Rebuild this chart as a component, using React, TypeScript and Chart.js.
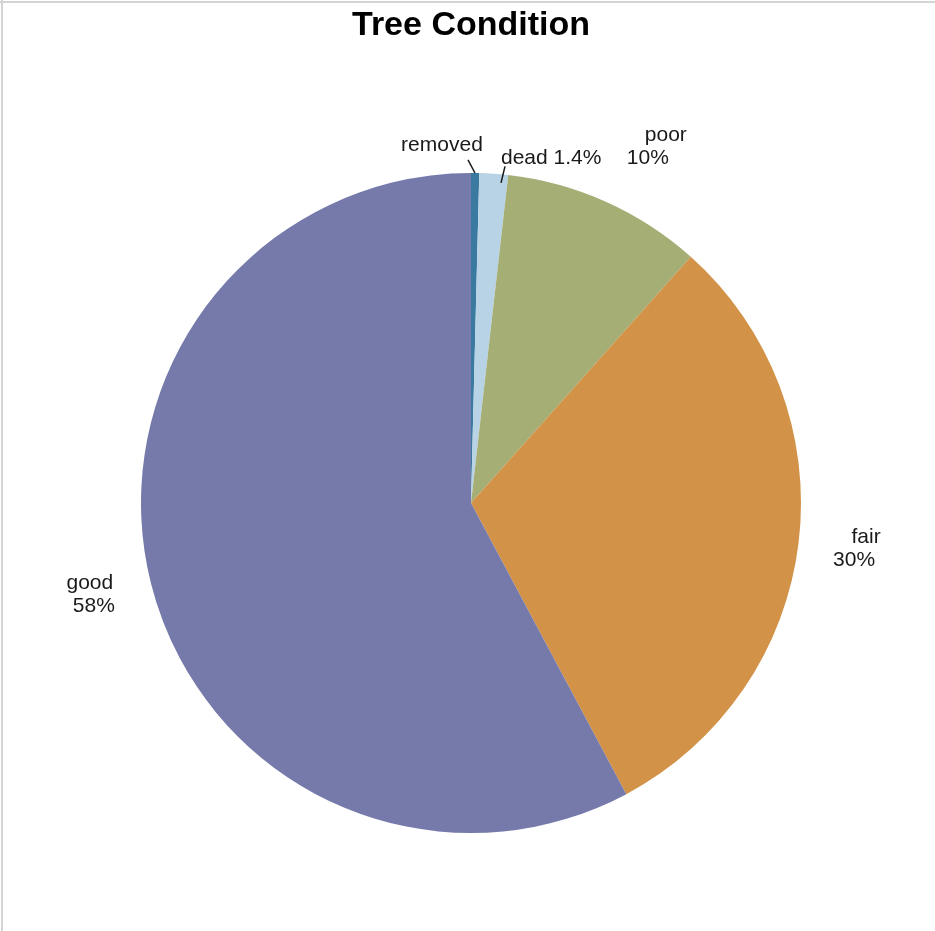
import React, { useEffect, useRef } from "react";
import { Chart, registerables } from "chart.js";

Chart.register(...registerables);

const categories = ["removed", "dead", "poor", "fair", "good"];
const values = [0.4, 1.4, 9.8, 30.6, 57.8];
const colors = ["#3A7AA0", "#B8D3E5", "#A4AE75", "#D29248", "#767AAB"];

// label placement (relative to pie centre, in units of radius) and per-line offsets
const labelLayout = [
  { lines: ["removed"], ax: -0.088, ay: -1.085, dx: [0], leader: { from: [0.012, -1.0], to: [-0.009, -1.04] } },
  { lines: ["dead 1.4%"], ax: 0.243, ay: -1.046, dx: [0], leader: { from: [0.091, -0.97], to: [0.103, -1.02] } },
  { lines: ["poor", "10%"], ax: 0.56, ay: -1.08, dx: [10, -8], leader: null },
  { lines: ["fair", "30%"], ax: 1.17, ay: 0.137, dx: [9, -3], leader: null },
  { lines: ["good", "58%"], ax: -1.146, ay: 0.277, dx: [-3, 1], leader: null },
];

export default function App() {
  const ref = useRef<HTMLCanvasElement | null>(null);
  useEffect(() => {
    if (!ref.current) return;
    const labelPlugin = {
      id: "pieLabels",
      beforeDraw(chart: any) {
        const ctx = chart.ctx;
        ctx.save();
        ctx.strokeStyle = "#d4d4d4";
        ctx.lineWidth = 2;
        ctx.beginPath();
        ctx.moveTo(0, 2);
        ctx.lineTo(chart.width, 2);
        ctx.moveTo(2, 0);
        ctx.lineTo(2, chart.height);
        ctx.stroke();
        ctx.restore();
      },
      afterDraw(chart: any) {
        const ctx = chart.ctx;
        const meta = chart.getDatasetMeta(0);
        ctx.save();
        ctx.font = "21px 'Liberation Sans', Arial, sans-serif";
        ctx.fillStyle = "#1a1a1a";
        ctx.textAlign = "center";
        ctx.textBaseline = "middle";
        meta.data.forEach((arc: any, i: number) => {
          const cx = arc.x;
          const cy = arc.y;
          const r = arc.outerRadius;
          const lay = labelLayout[i];
          if (lay.leader) {
            ctx.strokeStyle = "#1a1a1a";
            ctx.lineWidth = 1.5;
            ctx.beginPath();
            ctx.moveTo(cx + lay.leader.from[0] * r, cy + lay.leader.from[1] * r);
            ctx.lineTo(cx + lay.leader.to[0] * r, cy + lay.leader.to[1] * r);
            ctx.stroke();
          }
          const x = cx + lay.ax * r;
          const y = cy + lay.ay * r;
          const lh = 23;
          const n = lay.lines.length;
          lay.lines.forEach((t, j) => {
            ctx.fillText(t, x + lay.dx[j], y + (j - (n - 1) / 2) * lh);
          });
        });
        ctx.restore();
      },
    };
    const chart = new Chart(ref.current, {
      type: "pie",
      data: {
        labels: categories,
        datasets: [
          {
            data: values,
            backgroundColor: colors,
            borderWidth: 0,
          },
        ],
      },
      options: {
        responsive: false,
        animation: false,
        devicePixelRatio: 1,
        layout: { padding: { left: 141, right: 134, top: 0, bottom: 98 } },
        plugins: {
          legend: { display: false },
          tooltip: { enabled: false },
          title: {
            display: true,
            text: "Tree Condition",
            color: "#000",
            font: { family: "'Liberation Sans', Arial, sans-serif", size: 34, weight: "bold", lineHeight: 1.2 },
            padding: { top: 5, bottom: 127.2 },
          },
        },
      },
      plugins: [labelPlugin],
    });
    return () => chart.destroy();
  }, []);
  return (
    <div style={{ position: "absolute", left: 0, top: 0, width: 935, height: 931, background: "#fff" }}>
      <canvas ref={ref} width={935} height={931} />
    </div>
  );
}
